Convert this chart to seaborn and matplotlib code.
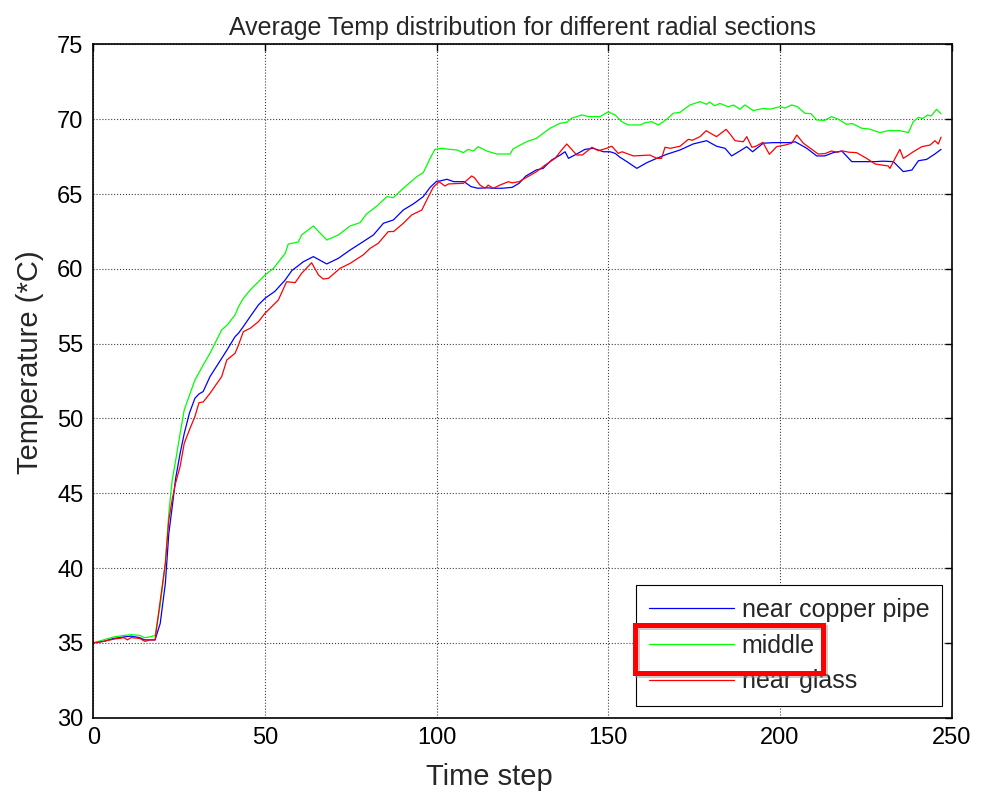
import numpy as np
import pandas as pd
import matplotlib
matplotlib.use("Agg")
import matplotlib.pyplot as plt
import matplotlib.patches as mpatches
import seaborn as sns

# values
blue_t = [0, 3, 6, 9, 11, 13.5, 15, 16.5, 18, 19.5,
          21, 22, 23, 24, 25.3, 26.5, 28, 29.6, 30.8, 32,
          34, 37.4, 39, 41.3, 42.3, 43.7, 45.7, 48.1, 50, 52.9,
          55.9, 57.8, 61.2, 64.1, 68, 71.4, 74.8, 78.6, 81.6, 84.5,
          87.4, 90.3, 93.2, 96.1, 98.1, 100, 101, 103, 105, 108,
          110, 112, 114.6, 116.5, 119, 122, 124, 126, 129, 131,
          133.5, 136, 137.4, 138.4, 140.8, 143.2, 145.6, 148.6, 150.5, 152,
          153.4, 155.4, 158.3, 161.2, 164.1, 167, 170.9, 174.7, 178.6, 181.5,
          184, 185.9, 188.3, 190.3, 192, 195.1, 198, 202.9, 204.4, 207.8,
          210.7, 213, 215.5, 218, 220.9, 227.7, 230, 233, 235.9, 238.4,
          240.3, 242.7, 245.1, 246.9]
blue_temp = [35.0, 35.1, 35.3, 35.4, 35.45, 35.35, 35.2, 35.2, 35.2, 36.3,
             38.98, 42.3, 44.1, 46.0, 47.67, 49.0, 50.35, 51.35, 51.64, 51.8,
             52.8, 54.02, 54.6, 55.47, 55.7, 56.14, 56.81, 57.59, 58.03, 58.5,
             59.26, 59.88, 60.48, 60.82, 60.33, 60.71, 61.26, 61.82, 62.27, 63.05,
             63.27, 63.94, 64.34, 64.83, 65.45, 65.86, 65.88, 65.99, 65.83, 65.83,
             65.5, 65.39, 65.42, 65.39, 65.39, 65.45, 65.72, 66.21, 66.61, 66.72,
             67.28, 67.61, 67.83, 67.39, 67.68, 67.99, 68.06, 67.83, 67.83, 67.72,
             67.46, 67.17, 66.72, 67.1, 67.39, 67.66, 67.95, 68.35, 68.57, 68.2,
             68.06, 67.55, 67.88, 68.17, 67.83, 68.4, 68.44, 68.44, 68.5, 68.06,
             67.55, 67.55, 67.77, 67.88, 67.17, 67.17, 67.2, 67.17, 66.5, 66.61,
             67.23, 67.32, 67.68, 67.99]

green_t = [0, 3, 6, 9, 11, 13.5, 15, 16.5, 18, 19.5,
           21, 22, 23, 24, 25.3, 26.5, 28.2, 29.6, 30.8, 32,
           34, 37.4, 39, 41.3, 42.3, 43.7, 45.7, 48.1, 50, 52.5,
           55.9, 56.8, 59.7, 60.7, 64.1, 68, 71.4, 74.8, 77.7, 79.6,
           82.6, 85.5, 87.4, 90.3, 94.2, 96.1, 98.1, 99.5, 101.5, 103.4,
           105.9, 107.8, 109.2, 110.7, 112.1, 114.6, 117.5, 121.4, 122.3, 126.2,
           129.1, 133, 135.9, 137.9, 139.3, 142.3, 144.2, 147.6, 150, 152,
           153.9, 155.8, 159.2, 160.7, 162.6, 164.6, 167, 168.9, 170.9, 173.8,
           176.7, 178.6, 179.5, 181, 182.5, 184.9, 186.5, 188.3, 189.8, 192.2,
           195.1, 197.1, 200, 201.5, 203.4, 205, 207.3, 209, 210.7, 213,
           215, 217, 219.4, 221, 223.8, 226, 229.1, 231.5, 234.9, 237.4,
           238.8, 240.3, 241.5, 243, 244, 245.6, 246.9]
green_temp = [35.0, 35.2, 35.4, 35.5, 35.55, 35.5, 35.35, 35.4, 35.5, 37.53,
              40.32, 43.66, 45.89, 47.2, 49.0, 50.57, 51.68, 52.57, 53.06, 53.57,
              54.36, 55.92, 56.25, 56.92, 57.47, 58.03, 58.59, 59.14, 59.59, 60.04,
              61.04, 61.66, 61.8, 62.27, 62.87, 61.93, 62.27, 62.87, 63.09, 63.67,
              64.2, 64.83, 64.76, 65.39, 66.16, 66.43, 67.39, 67.99, 68.06, 68.0,
              67.95, 67.77, 67.99, 67.88, 68.17, 67.88, 67.68, 67.68, 68.03, 68.5,
              68.73, 69.4, 69.73, 69.8, 70.07, 70.29, 70.18, 70.18, 70.5, 70.29,
              69.84, 69.62, 69.62, 69.77, 69.84, 69.62, 70.0, 70.4, 70.47, 70.96,
              71.18, 71.0, 71.15, 70.91, 71.06, 70.84, 70.95, 70.67, 70.96, 70.58,
              70.73, 70.68, 70.84, 70.75, 70.96, 70.85, 70.4, 70.38, 69.95, 69.93,
              70.18, 70.0, 69.66, 69.72, 69.4, 69.35, 69.11, 69.24, 69.24, 69.11,
              69.84, 70.13, 70.05, 70.29, 70.22, 70.67, 70.36]

red_t = [0, 3, 6, 9, 9.9, 11, 13.5, 15.1, 16.5, 18,
         19.5, 21, 22, 23, 24, 25.3, 26.5, 28.2, 29.6, 30.8,
         32, 34, 37.4, 38.9, 41.3, 42.3, 43.7, 45.7, 48.1, 50,
         51.5, 53.9, 56.3, 58.8, 60.7, 63.6, 65.6, 67, 68.5, 71.9,
         74.8, 78.6, 80.6, 83, 85.9, 87.5, 90.3, 92.7, 95.7, 97.6,
         99, 100.7, 102.4, 103.5, 107.8, 110.2, 111, 112.6, 114.1, 115,
         116.5, 118.5, 120.9, 122, 124, 126.2, 129.1, 131.6, 134.5, 136.4,
         137.9, 140.8, 142.5, 145.2, 147.1, 149.5, 151, 152.9, 154, 157.3,
         162.1, 164.1, 165.5, 166.5, 168, 170.9, 173.3, 174.5, 176.7, 178.5,
         179.5, 181.5, 184.3, 185.5, 186.9, 189.3, 190.3, 191.8, 193, 195,
         196.9, 199, 201.5, 203.4, 204.9, 206.8, 211.1, 213, 215, 216.5,
         218.4, 220, 222.3, 225.2, 227.7, 231.5, 232, 233.5, 234.9, 235.9,
         237.4, 238.8, 241.3, 243.7, 245.1, 246.1, 246.9]
red_temp = [35.0, 35.1, 35.25, 35.35, 35.2, 35.35, 35.3, 35.1, 35.2, 35.2,
            37.8, 40.32, 43.2, 44.6, 45.7, 46.8, 48.34, 49.35, 50.12, 51.06,
            51.1, 51.68, 52.8, 53.91, 54.36, 54.91, 55.8, 56.03, 56.47, 57.03,
            57.37, 57.92, 59.14, 59.08, 59.71, 60.41, 59.59, 59.32, 59.37, 60.04,
            60.37, 60.93, 61.37, 61.71, 62.49, 62.5, 63.05, 63.6, 63.94, 64.83,
            65.45, 65.83, 65.54, 65.68, 65.72, 66.21, 66.1, 65.61, 65.39, 65.6,
            65.39, 65.61, 65.83, 65.75, 65.83, 66.12, 66.5, 66.94, 67.39, 67.95,
            68.35, 67.61, 67.62, 68.13, 67.9, 68.06, 68.2, 67.72, 67.83, 67.55,
            67.61, 67.39, 67.39, 68.13, 68.06, 68.2, 68.66, 68.6, 68.84, 69.24,
            69.1, 68.84, 69.33, 69.0, 68.57, 68.5, 68.84, 68.13, 68.2, 68.46,
            67.66, 68.17, 68.28, 68.4, 68.95, 68.4, 67.68, 67.7, 67.88, 67.8,
            67.88, 67.8, 67.77, 67.39, 67.01, 66.88, 66.72, 67.39, 67.99, 67.39,
            67.61, 67.83, 68.17, 68.28, 68.57, 68.35, 68.81]

labels = ["near copper pipe", "middle", "near glass"]
colors = ["#0000ff", "#00ff00", "#ff0000"]
x_ticks = [0, 50, 100, 150, 200, 250]
y_ticks = [30, 35, 40, 45, 50, 55, 60, 65, 70, 75]

df = pd.concat([
    pd.DataFrame({"time": blue_t, "temp": blue_temp, "section": labels[0]}),
    pd.DataFrame({"time": green_t, "temp": green_temp, "section": labels[1]}),
    pd.DataFrame({"time": red_t, "temp": red_temp, "section": labels[2]}),
], ignore_index=True)

sns.set_style("white")
plt.rcParams["font.family"] = ["Liberation Sans", "DejaVu Sans"]

fig = plt.figure(figsize=(9.92, 7.96), dpi=100)
ax = fig.add_axes([0.094, 0.0984, 0.8654, 0.8457])

sns.lineplot(data=df, x="time", y="temp", hue="section", hue_order=labels,
             palette=dict(zip(labels, colors)), estimator=None, sort=True,
             linewidth=0.9, ax=ax)

ax.set_xlim(0, 250)
ax.set_ylim(30, 75)
ax.set_xticks(x_ticks)
ax.set_yticks(y_ticks)
ax.grid(True, linestyle=":", color="0.25", linewidth=0.8)
ax.tick_params(direction="in", length=5, width=1, top=True, right=True,
               labelsize=17, pad=7, colors="black")
for s in ax.spines.values():
    s.set_color("black")
    s.set_linewidth(1.2)

ax.set_title("Average Temp distribution for different radial sections",
             fontsize=18, pad=7)
ax.set_xlabel("Time step", fontsize=21)
ax.set_ylabel("Temperature (*C)", fontsize=21)
ax.xaxis.set_label_coords(0.462, -0.068)
ax.yaxis.set_label_coords(-0.057, 0.528)

leg = ax.legend(loc="lower right", bbox_to_anchor=(0.9493, 0.1131),
                bbox_transform=fig.transFigure, borderaxespad=0,
                fontsize=18, frameon=True, fancybox=False, framealpha=1,
                edgecolor="black", handlelength=3.4, handletextpad=0.32,
                labelspacing=0.47, borderpad=0.5)
leg.get_frame().set_linewidth(0.8)
for h in leg.get_lines():
    h.set_linewidth(0.9)

# red highlight box around "middle" with a soft shadow
shadow = mpatches.Rectangle((0.6425, 0.1515), 0.1895, 0.0603, transform=fig.transFigure,
                            fill=False, edgecolor="0.6", linewidth=3.6, alpha=0.5, zorder=9)
box = mpatches.Rectangle((0.640, 0.1545), 0.1895, 0.0603, transform=fig.transFigure,
                         fill=False, edgecolor="#ff0000", linewidth=3.6, zorder=10)
fig.add_artist(shadow)
fig.add_artist(box)

fig.savefig("out.png", dpi=100)
